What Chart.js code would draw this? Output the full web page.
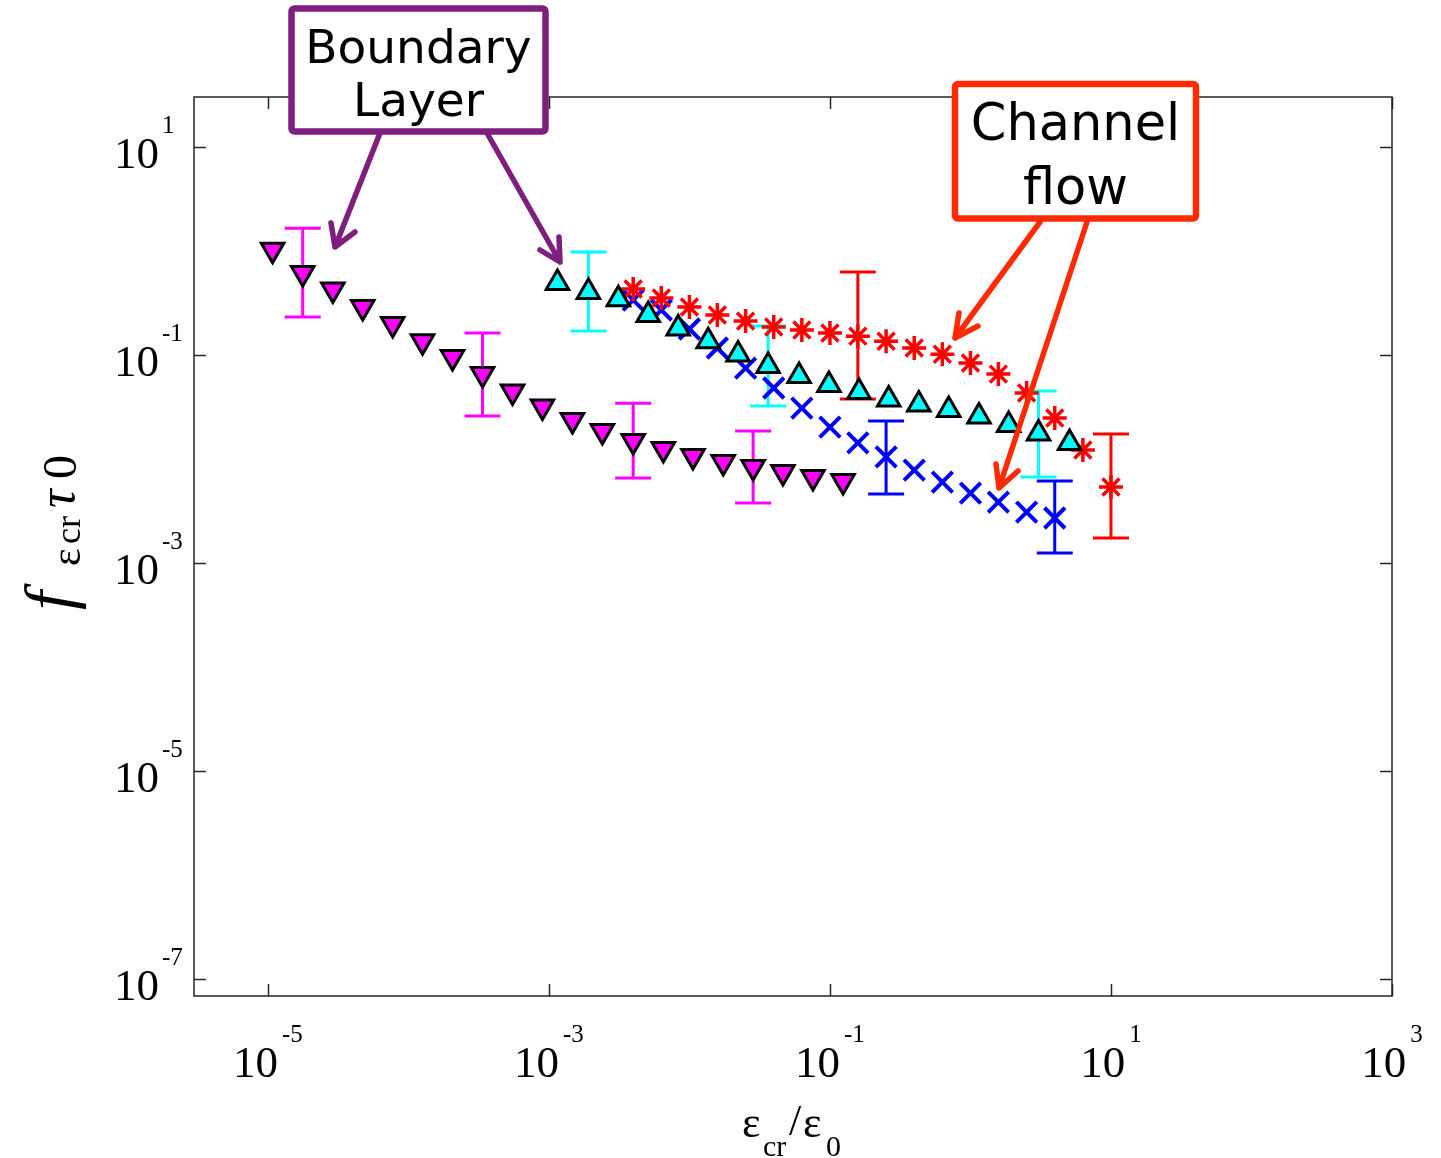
<!DOCTYPE html>
<html>
<head>
<meta charset="utf-8">
<script src="https://cdn.jsdelivr.net/npm/chart.js@4.4.1/dist/chart.umd.min.js"></script>
<style>
  html, body { margin: 0; padding: 0; background: #fff; }
  #wrap { width: 1441px; height: 1158px; position: relative; }
</style>
</head>
<body>
<div id="wrap"><canvas id="chart" width="1441" height="1158"></canvas></div>
<script>
// axis ticks (every other decade)
const xTicks = [1e-5, 1e-3, 1e-1, 1e1, 1e3];
const xTickExp = ['-5', '-3', '-1', '1', '3'];
const yTicks = [1e1, 1e-1, 1e-3, 1e-5, 1e-7];
const yTickExp = ['1', '-1', '-3', '-5', '-7'];

// boundary layer, set 1 (magenta down triangles)
const bl1X = [1.08e-5, 1.77e-5, 2.90e-5, 4.73e-5, 7.73e-5, 1.26e-4, 2.06e-4, 3.37e-4, 5.51e-4, 8.99e-4,
              1.47e-3, 2.40e-3, 3.98e-3, 6.52e-3, 1.06e-2, 1.74e-2, 2.84e-2, 4.63e-2, 7.57e-2, 0.124];
const bl1Y = [1.03, 0.614, 0.427, 0.290, 0.199, 0.136, 0.0957, 0.0656, 0.0446, 0.0320,
              0.0237, 0.0186, 0.0149, 0.0125, 0.0107, 0.00935, 0.00837, 0.00750, 0.00671, 0.00614];
const bl1ErrIdx = [1, 7, 12, 16];
const bl1ErrHi = [1.66, 0.163, 0.0345, 0.0186];
const bl1ErrLo = [0.232, 0.0259, 0.00656, 0.00378];

// boundary layer, set 2 (cyan up triangles)
const bl2X = [1.15e-3, 1.91e-3, 3.12e-3, 5.09e-3, 8.32e-3, 1.36e-2, 2.22e-2, 3.63e-2, 6.03e-2,
              9.84e-2, 0.161, 0.262, 0.429, 0.700, 1.15, 1.87, 3.05, 5.07];
const bl2Y = [0.492, 0.404, 0.345, 0.243, 0.180, 0.136, 0.101, 0.0783, 0.0628,
              0.0515, 0.0441, 0.0373, 0.0334, 0.0296, 0.0256, 0.0212, 0.0176, 0.0143];
const bl2ErrIdx = [1, 7, 16];
const bl2ErrHi = [0.978, 0.190, 0.0451];
const bl2ErrLo = [0.170, 0.0324, 0.00671];

// channel flow, set 1 (red asterisks)
const ch1X = [0.00398, 0.00631, 0.01, 0.0158, 0.0251, 0.0398, 0.0631, 0.1, 0.158,
              0.251, 0.398, 0.631, 1, 1.58, 2.51, 3.98, 6.31, 10];
const ch1Y = [0.431, 0.353, 0.290, 0.243, 0.212, 0.186, 0.174, 0.163, 0.152,
              0.136, 0.117, 0.102, 0.0838, 0.0656, 0.0431, 0.0248, 0.0122, 0.00538];
const ch1ErrIdx = [8, 17];
const ch1ErrHi = [0.628, 0.0174];
const ch1ErrLo = [0.0378, 0.00174];

// channel flow, set 2 (blue crosses)
const ch2X = [0.00398, 0.00631, 0.01, 0.0158, 0.0251, 0.0398, 0.0631, 0.1,
              0.158, 0.251, 0.398, 0.631, 1, 1.58, 2.51, 3.98];
const ch2Y = [0.338, 0.271, 0.178, 0.117, 0.075, 0.0482, 0.0309, 0.0203,
              0.0143, 0.0105, 0.00783, 0.00601, 0.00471, 0.00386, 0.00309, 0.00271];
const ch2ErrIdx = [9, 15];
const ch2ErrHi = [0.0232, 0.00614];
const ch2ErrLo = [0.00461, 0.00125];

const toPts = (xs, ys) => xs.map((x, i) => ({ x: x, y: ys[i] }));

const errorSets = [
  { xs: bl1X, idx: bl1ErrIdx, hi: bl1ErrHi, lo: bl1ErrLo, color: '#FF00FF' },
  { xs: ch2X, idx: ch2ErrIdx, hi: ch2ErrHi, lo: ch2ErrLo, color: '#0000FF' },
  { xs: ch1X, idx: ch1ErrIdx, hi: ch1ErrHi, lo: ch1ErrLo, color: '#FF0000' },
  { xs: bl2X, idx: bl2ErrIdx, hi: bl2ErrHi, lo: bl2ErrLo, color: '#00FFFF' }
];

// error bars, drawn under the markers
const errorBars = {
  id: 'errorBars',
  beforeDatasetsDraw(chart) {
    const ctx = chart.ctx, xs = chart.scales.x, ys = chart.scales.y;
    ctx.save();
    ctx.lineWidth = 3;
    errorSets.forEach(s => {
      ctx.strokeStyle = s.color;
      s.idx.forEach((k, j) => {
        const px = xs.getPixelForValue(s.xs[k]);
        const top = ys.getPixelForValue(s.hi[j]);
        const bot = ys.getPixelForValue(s.lo[j]);
        ctx.beginPath();
        ctx.moveTo(px, top); ctx.lineTo(px, bot);
        ctx.moveTo(px - 18, top); ctx.lineTo(px + 18, top);
        ctx.moveTo(px - 18, bot); ctx.lineTo(px + 18, bot);
        ctx.stroke();
      });
    });
    ctx.restore();
  }
};

// box, inward ticks and 10^n labels
const frame = {
  id: 'frame',
  afterDatasetsDraw(chart) {
    const ctx = chart.ctx, a = chart.chartArea;
    const xs = chart.scales.x, ys = chart.scales.y;
    ctx.save();
    ctx.strokeStyle = '#262626';
    ctx.lineWidth = 1.5;
    ctx.strokeRect(a.left, a.top, a.right - a.left, a.bottom - a.top);
    ctx.beginPath();
    xTicks.forEach(v => {
      const px = Math.round(xs.getPixelForValue(v)) + 0.5;
      ctx.moveTo(px, a.bottom); ctx.lineTo(px, a.bottom - 12);
      ctx.moveTo(px, a.top); ctx.lineTo(px, a.top + 12);
    });
    yTicks.forEach(v => {
      const py = Math.round(ys.getPixelForValue(v)) + 0.5;
      ctx.moveTo(a.left, py); ctx.lineTo(a.left + 12, py);
      ctx.moveTo(a.right, py); ctx.lineTo(a.right - 12, py);
    });
    ctx.stroke();

    ctx.fillStyle = '#000';
    ctx.textBaseline = 'alphabetic';
    const big = '45px "Liberation Serif", "Times New Roman", serif';
    const small = '25px "Liberation Serif", "Times New Roman", serif';
    // x labels
    xTicks.forEach((v, i) => {
      const px = xs.getPixelForValue(v);
      ctx.font = big;
      const w10 = ctx.measureText('10').width;
      ctx.font = small;
      const we = ctx.measureText(xTickExp[i]).width;
      const x0 = px - (w10 + 4 + we) / 2;
      ctx.font = big;
      ctx.textAlign = 'left';
      ctx.fillText('10', x0, a.bottom + 81);
      ctx.font = small;
      ctx.fillText(xTickExp[i], x0 + w10 + 4, a.bottom + 46);
    });
    // y labels
    yTicks.forEach((v, i) => {
      const py = ys.getPixelForValue(v);
      ctx.font = big;
      ctx.textAlign = 'right';
      ctx.fillText('10', 159, py + 21);
      ctx.font = small;
      ctx.textAlign = 'left';
      ctx.fillText(yTickExp[i], 162, py - 14);
    });
    ctx.restore();
  }
};

// axis titles and the two callout boxes
function box(ctx, x0, y0, x1, y1, color, lines, font, baselines) {
  ctx.save();
  ctx.fillStyle = '#fff';
  ctx.strokeStyle = color;
  ctx.lineWidth = 6.5;
  ctx.lineJoin = 'round';
  ctx.beginPath();
  ctx.roundRect(x0, y0, x1 - x0, y1 - y0, 3);
  ctx.fill();
  ctx.stroke();
  ctx.fillStyle = '#000';
  ctx.font = font;
  ctx.textAlign = 'center';
  lines.forEach((t, i) => ctx.fillText(t, (x0 + x1) / 2, baselines[i]));
  ctx.restore();
}

function arrow(ctx, color, from, tip, b1, b2) {
  ctx.save();
  ctx.strokeStyle = color;
  ctx.lineWidth = 5.5;
  ctx.lineCap = 'round';
  ctx.lineJoin = 'round';
  ctx.beginPath();
  ctx.moveTo(from[0], from[1]); ctx.lineTo(tip[0], tip[1]);
  ctx.moveTo(b1[0], b1[1]); ctx.lineTo(tip[0], tip[1]); ctx.lineTo(b2[0], b2[1]);
  ctx.stroke();
  ctx.restore();
}

const notes = {
  id: 'notes',
  afterDraw(chart) {
    const ctx = chart.ctx;
    const purple = '#7E1E7E', orange = '#FF2A00';
    arrow(ctx, purple, [380, 133], [335, 247], [331, 223], [355, 232]);
    arrow(ctx, purple, [487, 133], [560, 262], [540, 250], [559, 237]);
    arrow(ctx, orange, [1040, 222], [955, 338], [959, 313], [978, 326]);
    arrow(ctx, orange, [1087, 222], [999, 488], [996, 464], [1018, 471]);
    box(ctx, 291.5, 8.5, 545.5, 131.5, purple, ['Boundary', 'Layer'],
        '47px "DejaVu Sans", Verdana, sans-serif', [63, 116]);
    box(ctx, 955, 84, 1196, 218.5, orange, ['Channel', 'flow'],
        '51px "DejaVu Sans", Verdana, sans-serif', [140, 204]);

    ctx.save();
    ctx.fillStyle = '#000';
    ctx.textAlign = 'left';
    // x title: eps_cr / eps_0
    const serif = '"Liberation Serif", "Times New Roman", serif';
    ctx.font = '44px ' + serif;
    ctx.fillText('\u03B5', 742, 1137);
    ctx.font = '30px ' + serif;
    ctx.fillText('cr', 763, 1156);
    ctx.font = '44px ' + serif;
    ctx.fillText('/', 789, 1135);
    ctx.fillText('\u03B5', 803, 1137);
    ctx.font = '30px ' + serif;
    ctx.fillText('0', 826, 1156);

    // y title: f_{eps cr} tau_0, rotated
    ctx.translate(72, 612);
    ctx.rotate(-Math.PI / 2);
    ctx.font = 'italic 68px ' + serif;
    ctx.fillText('f', 2, 0);
    ctx.font = '42px ' + serif;
    ctx.fillText('\u03B5', 46, 8);
    ctx.font = '36px ' + serif;
    ctx.fillText('cr', 68, 8);
    ctx.font = 'italic 52px ' + serif;
    ctx.fillText('\u03C4', 104, 2);
    ctx.font = '48px ' + serif;
    ctx.fillText('0', 133, 4);
    ctx.restore();
  }
};

new Chart(document.getElementById('chart'), {
  type: 'scatter',
  data: {
    datasets: [
      { label: 'BL 2', data: toPts(bl2X, bl2Y), pointStyle: 'triangle', pointRadius: 13,
        backgroundColor: '#00FFFF', borderColor: '#000', borderWidth: 3 },
      { label: 'CH 1', data: toPts(ch1X, ch1Y), pointStyle: 'star', pointRadius: 12,
        backgroundColor: '#FF0000', borderColor: '#FF0000', borderWidth: 3.5 },
      { label: 'BL 1', data: toPts(bl1X, bl1Y), pointStyle: 'triangle', pointRotation: 180,
        pointRadius: 13, backgroundColor: '#FF00FF', borderColor: '#000', borderWidth: 3 },
      { label: 'CH 2', data: toPts(ch2X, ch2Y), pointStyle: 'crossRot', pointRadius: 14.5,
        backgroundColor: '#0000FF', borderColor: '#0000FF', borderWidth: 4 }
    ]
  },
  options: {
    responsive: false,
    animation: false,
    layout: { padding: { left: 194, top: 97, right: 49, bottom: 162 } },
    scales: {
      x: { type: 'logarithmic', display: false, min: 2.98e-6, max: 1000 },
      y: { type: 'logarithmic', display: false, min: 6.87e-8, max: 30.3 }
    },
    plugins: { legend: { display: false }, tooltip: { enabled: false } }
  },
  plugins: [errorBars, frame, notes]
});
</script>
</body>
</html>
